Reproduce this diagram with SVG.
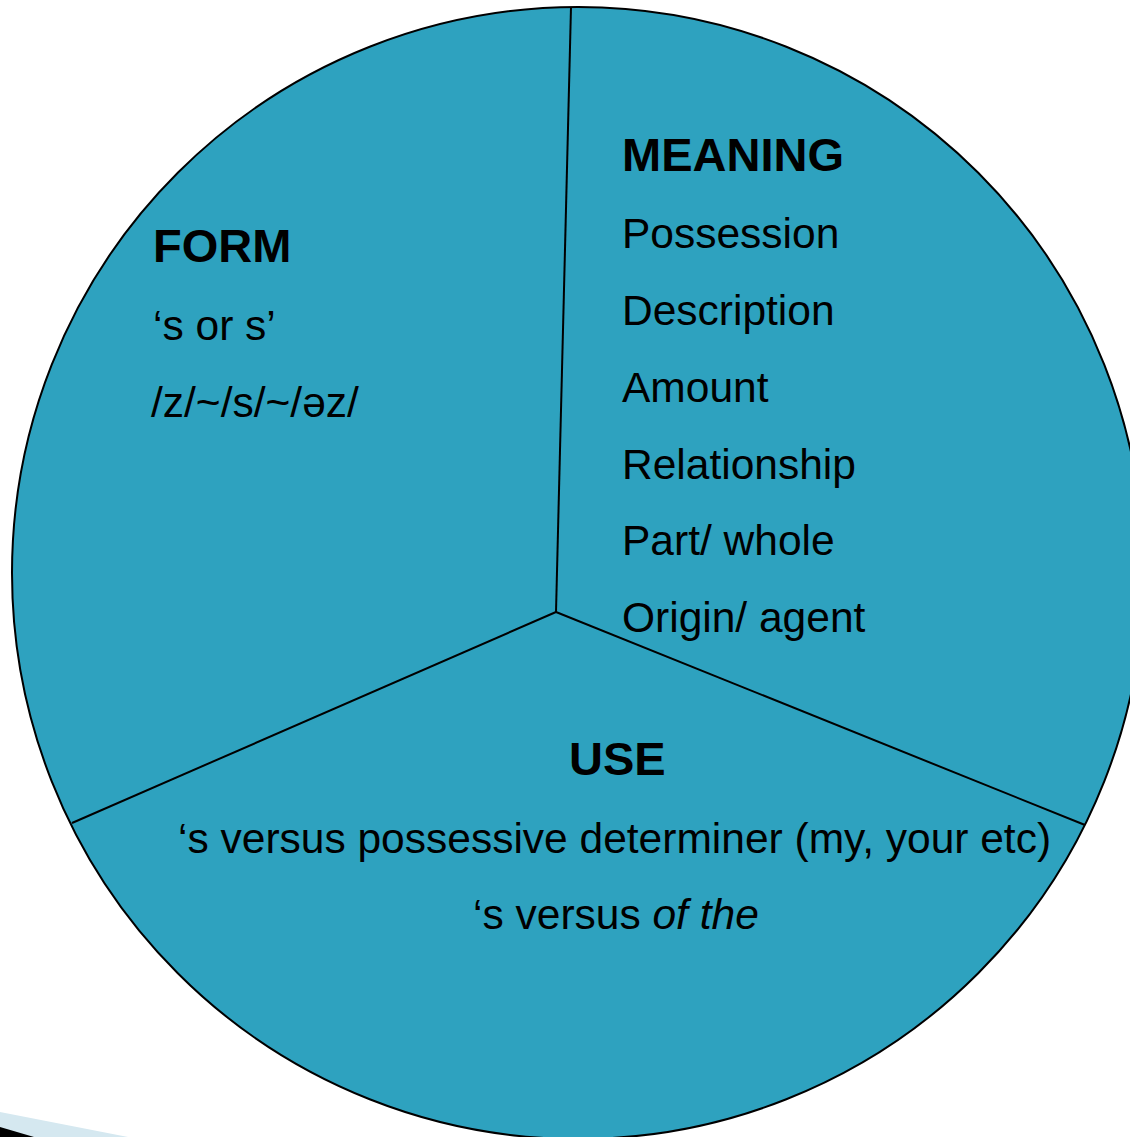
<svg xmlns="http://www.w3.org/2000/svg" width="1130" height="1137" viewBox="0 0 1130 1137">
<style>
.t{font-family:"Liberation Sans",Arial,sans-serif;font-size:42.5px;fill:#000}
.h{font-weight:bold;font-size:47px}
.sep{stroke:#000;stroke-width:2;fill:none}
</style>
<rect width="1130" height="1137" fill="#fff"/>
<polygon points="0,1112 128,1137 0,1137" fill="#d5e8f0"/>
<polygon points="0,1127 34,1137 0,1137" fill="#000"/>
<g id="pie">
<ellipse cx="578" cy="573" rx="566" ry="566" fill="#2ea2bf" stroke="#000" stroke-width="2"/>
</g>
<g id="connectors">
<line class="sep" x1="556" y1="612" x2="571" y2="7"/>
<line class="sep" x1="556" y1="612" x2="72" y2="823"/>
<line class="sep" x1="556" y1="612" x2="1085" y2="825"/>
</g>
<g id="form">
<text class="t h" x="153" y="262">FORM</text>
<text class="t" x="153" y="340">‘s or s’</text>
<text class="t" x="151" y="417">/z/~/s/~/əz/</text>
</g>
<g id="meaning">
<text class="t h" x="622" y="171">MEANING</text>
<text class="t" x="622" y="248">Possession</text>
<text class="t" x="622" y="325">Description</text>
<text class="t" x="622" y="402">Amount</text>
<text class="t" x="622" y="479">Relationship</text>
<text class="t" x="622" y="555">Part/ whole</text>
<text class="t" x="622" y="632">Origin/ agent</text>
</g>
<g id="use">
<text class="t h" x="569" y="775">USE</text>
<text class="t" x="178" y="853">‘s versus possessive determiner (my, your etc)</text>
<text class="t" x="473" y="929">‘s versus <tspan font-style="italic">of the</tspan></text>
</g>
</svg>
